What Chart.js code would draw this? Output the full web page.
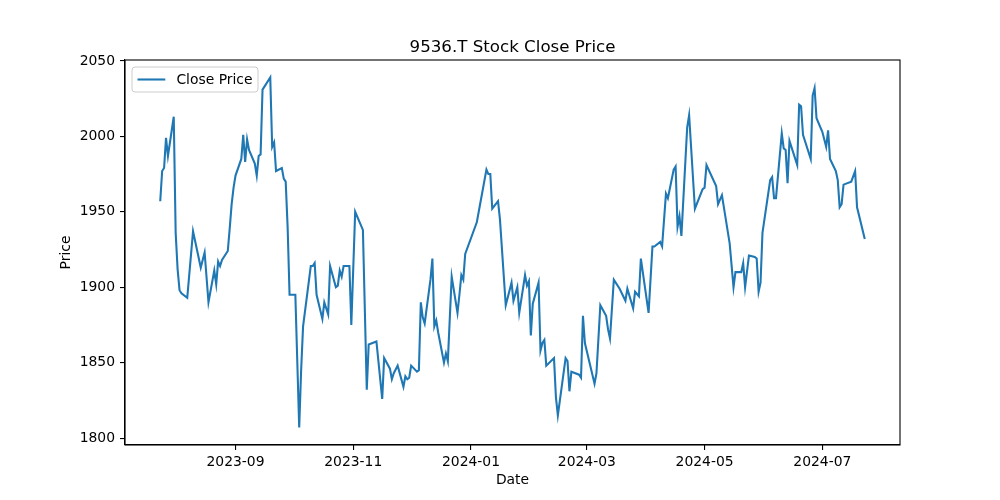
<!DOCTYPE html>
<html>
<head>
<meta charset="utf-8">
<script src="https://cdn.jsdelivr.net/npm/chart.js@4.4.1/dist/chart.umd.min.js"></script>
<style>
  html, body { margin: 0; padding: 0; background: #fff; }
  #wrap { width: 1000px; height: 500px; }
</style>
</head>
<body>
<div id="wrap"><canvas id="chart" width="1000" height="500"></canvas></div>
<script>
/* ========= Data ========= */
const dates = [
  "2023-07-24","2023-07-25","2023-07-26","2023-07-27","2023-07-28","2023-07-31",
  "2023-08-01","2023-08-02","2023-08-03","2023-08-04","2023-08-07","2023-08-10",
  "2023-08-14","2023-08-15","2023-08-16","2023-08-18","2023-08-21","2023-08-22",
  "2023-08-23","2023-08-24","2023-08-25","2023-08-28","2023-08-29","2023-08-30",
  "2023-08-31","2023-09-01","2023-09-04","2023-09-05","2023-09-06","2023-09-07",
  "2023-09-08","2023-09-11","2023-09-12","2023-09-13","2023-09-14","2023-09-15",
  "2023-09-19","2023-09-20","2023-09-21","2023-09-22","2023-09-25","2023-09-26",
  "2023-09-27","2023-09-28","2023-09-29","2023-10-02","2023-10-04","2023-10-05",
  "2023-10-06","2023-10-10","2023-10-11","2023-10-12","2023-10-13","2023-10-16",
  "2023-10-17","2023-10-19","2023-10-20","2023-10-23","2023-10-24","2023-10-25",
  "2023-10-26","2023-10-27","2023-10-30","2023-10-31","2023-11-02","2023-11-06",
  "2023-11-08","2023-11-09","2023-11-13","2023-11-16","2023-11-17","2023-11-20",
  "2023-11-21","2023-11-22","2023-11-24","2023-11-27","2023-11-28","2023-11-29",
  "2023-11-30","2023-12-01","2023-12-04","2023-12-05","2023-12-06","2023-12-07",
  "2023-12-08","2023-12-11","2023-12-12","2023-12-13","2023-12-14","2023-12-15",
  "2023-12-18","2023-12-19","2023-12-20","2023-12-21","2023-12-22","2023-12-25",
  "2023-12-26","2023-12-27","2023-12-28","2023-12-29",
  "2024-01-04","2024-01-05","2024-01-09","2024-01-10","2024-01-11","2024-01-12",
  "2024-01-15","2024-01-16","2024-01-19","2024-01-22","2024-01-23","2024-01-25",
  "2024-01-26","2024-01-29","2024-01-30","2024-01-31","2024-02-01","2024-02-02",
  "2024-02-05","2024-02-06","2024-02-07","2024-02-08","2024-02-09","2024-02-13",
  "2024-02-14","2024-02-15","2024-02-19","2024-02-20","2024-02-21","2024-02-22",
  "2024-02-26","2024-02-27","2024-02-28","2024-02-29","2024-03-05","2024-03-06",
  "2024-03-08","2024-03-11","2024-03-12","2024-03-13","2024-03-15","2024-03-18",
  "2024-03-21","2024-03-22","2024-03-25","2024-03-26","2024-03-28","2024-03-29",
  "2024-04-02","2024-04-04","2024-04-05","2024-04-08","2024-04-09","2024-04-11",
  "2024-04-12","2024-04-15","2024-04-16","2024-04-17","2024-04-18","2024-04-19",
  "2024-04-22","2024-04-23","2024-04-26","2024-04-30","2024-05-01","2024-05-02",
  "2024-05-07","2024-05-08","2024-05-10","2024-05-14","2024-05-16","2024-05-17",
  "2024-05-20","2024-05-21","2024-05-22","2024-05-24","2024-05-27","2024-05-28",
  "2024-05-29","2024-05-30","2024-05-31","2024-06-04","2024-06-05","2024-06-06",
  "2024-06-07","2024-06-10","2024-06-11","2024-06-12","2024-06-13","2024-06-14",
  "2024-06-18","2024-06-19","2024-06-20","2024-06-21","2024-06-25","2024-06-26",
  "2024-06-27","2024-06-28","2024-07-01","2024-07-02","2024-07-03","2024-07-04",
  "2024-07-05","2024-07-08","2024-07-09","2024-07-10","2024-07-11","2024-07-12",
  "2024-07-16","2024-07-18","2024-07-19","2024-07-23"
];
const closes = [
  1957, 1977, 1979, 1999, 1987, 2013,
  1936, 1912, 1898, 1896, 1893, 1937,
  1913, 1918, 1923, 1890, 1911, 1902,
  1917, 1914, 1918, 1924, 1939, 1955,
  1966, 1974, 1985, 2001, 1983, 1998,
  1991, 1982, 1974, 1987, 1988, 2031,
  2039, 1993, 1996, 1977, 1979, 1972,
  1970, 1940, 1895, 1895, 1807, 1845,
  1874, 1914, 1914, 1916, 1895, 1879,
  1890, 1882, 1914, 1900, 1901, 1911,
  1907, 1914, 1914, 1875, 1950, 1938,
  1832, 1862, 1864, 1826, 1853, 1846,
  1839, 1843, 1848, 1834, 1841, 1839,
  1840, 1848, 1844, 1845, 1890, 1880,
  1876, 1905, 1919, 1874, 1878, 1870,
  1850, 1856, 1851, 1879, 1907, 1883,
  1895, 1908, 1905, 1922,
  1943, 1950, 1978, 1975, 1975, 1952,
  1957, 1945, 1888, 1903, 1891, 1900,
  1883, 1908, 1901, 1904, 1868, 1889,
  1903, 1858, 1863, 1865, 1848, 1853,
  1827, 1815, 1853, 1851, 1831, 1844,
  1842, 1840, 1881, 1863, 1836, 1843,
  1888, 1881, 1872, 1866, 1905, 1899,
  1891, 1899, 1886, 1897, 1894, 1919,
  1883, 1927, 1927, 1930, 1927, 1962,
  1959, 1978, 1980, 1940, 1947, 1934,
  2006, 2014, 1952, 1965, 1966, 1981,
  1967, 1955, 1961, 1929, 1900, 1910,
  1910, 1916, 1900, 1921, 1920, 1919,
  1897, 1903, 1936, 1971, 1973, 1959,
  1959, 2002, 1992, 1991, 1969, 1997,
  1981, 2021, 2020, 2001, 1985, 2027,
  2032, 2012, 2003, 1998, 1993, 2004,
  1985, 1977, 1971, 1953, 1955, 1968,
  1970, 1977, 1953, 1932
];
const xTickLabels = ["2023-09", "2023-11", "2024-01", "2024-03", "2024-05", "2024-07"];
const yTickValues = [1800, 1850, 1900, 1950, 2000, 2050];

/* ========= Helpers ========= */
const DAY = 864e5;
function toDay(s) {
  return Date.UTC(+s.slice(0, 4), +s.slice(5, 7) - 1, +s.slice(8, 10) || 1) / DAY;
}
function fmtMonth(day) {
  const d = new Date(day * DAY);
  return d.getUTCFullYear() + "-" + String(d.getUTCMonth() + 1).padStart(2, "0");
}

const points = dates.map((d, i) => ({ x: toDay(d), y: closes[i] }));
const xFirst = points[0].x, xLast = points[points.length - 1].x;
const xPad = (xLast - xFirst) * 0.05;
const yLo = Math.min(...closes), yHi = Math.max(...closes);
const yPad = (yHi - yLo) * 0.05;

const FONT = "'DejaVu Sans', sans-serif";
Chart.defaults.font.family = FONT;
Chart.defaults.font.size = 13.9;
Chart.defaults.color = "#000";

/* ========= Frame, title and legend (matplotlib look) ========= */
const decor = {
  id: "decor",
  afterDraw(chart) {
    const { ctx, chartArea: a } = chart;
    ctx.save();
    ctx.strokeStyle = "#000";
    ctx.lineWidth = 1.1;
    ctx.strokeRect(a.left, a.top, a.right - a.left, a.bottom - a.top);

    ctx.fillStyle = "#000";
    ctx.font = "16.67px " + FONT;
    ctx.textAlign = "center";
    ctx.textBaseline = "alphabetic";
    ctx.fillText("9536.T Stock Close Price", (a.left + a.right) / 2, a.top - 8.3);

    // legend box
    const lx = a.left + 7, ly = a.top + 7, lw = 126, lh = 25;
    ctx.beginPath();
    ctx.roundRect(lx, ly, lw, lh, 3);
    ctx.fillStyle = "rgba(255,255,255,0.8)";
    ctx.fill();
    ctx.strokeStyle = "#cccccc";
    ctx.lineWidth = 1;
    ctx.stroke();
    ctx.beginPath();
    ctx.moveTo(lx + 5.5, ly + lh / 2);
    ctx.lineTo(lx + 33.3, ly + lh / 2);
    ctx.strokeStyle = "#1f77b4";
    ctx.lineWidth = 2.08;
    ctx.stroke();
    ctx.fillStyle = "#000";
    ctx.font = "13.9px " + FONT;
    ctx.textAlign = "left";
    ctx.textBaseline = "middle";
    ctx.fillText("Close Price", lx + 44.4, ly + lh / 2 + 0.5);
    ctx.restore();
  }
};

/* ========= Chart ========= */
new Chart(document.getElementById("chart"), {
  type: "line",
  data: {
    datasets: [{
      label: "Close Price",
      data: points,
      borderColor: "#1f77b4",
      borderWidth: 2.08,
      pointRadius: 0,
      tension: 0,
      fill: false
    }]
  },
  options: {
    responsive: false,
    devicePixelRatio: 1,
    animation: false,
    layout: { padding: { left: 0, top: 60, right: 100, bottom: 0 } },
    plugins: {
      legend: { display: false },
      title: { display: false },
      tooltip: { enabled: false }
    },
    scales: {
      x: {
        type: "linear",
        min: xFirst - xPad,
        max: xLast + xPad,
        afterBuildTicks: (s) => { s.ticks = xTickLabels.map((t) => ({ value: toDay(t + "-01") })); },
        afterFit: (s) => { s.height = 55; },
        ticks: { autoSkip: false, maxRotation: 0, padding: 4, callback: (v) => fmtMonth(v) },
        grid: { display: true, drawOnChartArea: false, drawTicks: true, tickLength: 5, color: "#000", lineWidth: 1.1 },
        border: { display: true, color: "#000", width: 1.1 },
        title: { display: true, text: "Date", padding: { top: 0, bottom: 11.5 } }
      },
      y: {
        min: yLo - yPad,
        max: yHi + yPad,
        afterBuildTicks: (s) => { s.ticks = yTickValues.map((v) => ({ value: v })); },
        afterFit: (s) => { s.width = 125; },
        ticks: { autoSkip: false, padding: 5, callback: (v) => String(v) },
        grid: { display: true, drawOnChartArea: false, drawTicks: true, tickLength: 5, color: "#000", lineWidth: 1.1 },
        border: { display: true, color: "#000", width: 1.1 },
        title: { display: true, text: "Price", padding: { top: 58.5, bottom: 0 } }
      }
    }
  },
  plugins: [decor]
});
</script>
</body>
</html>
